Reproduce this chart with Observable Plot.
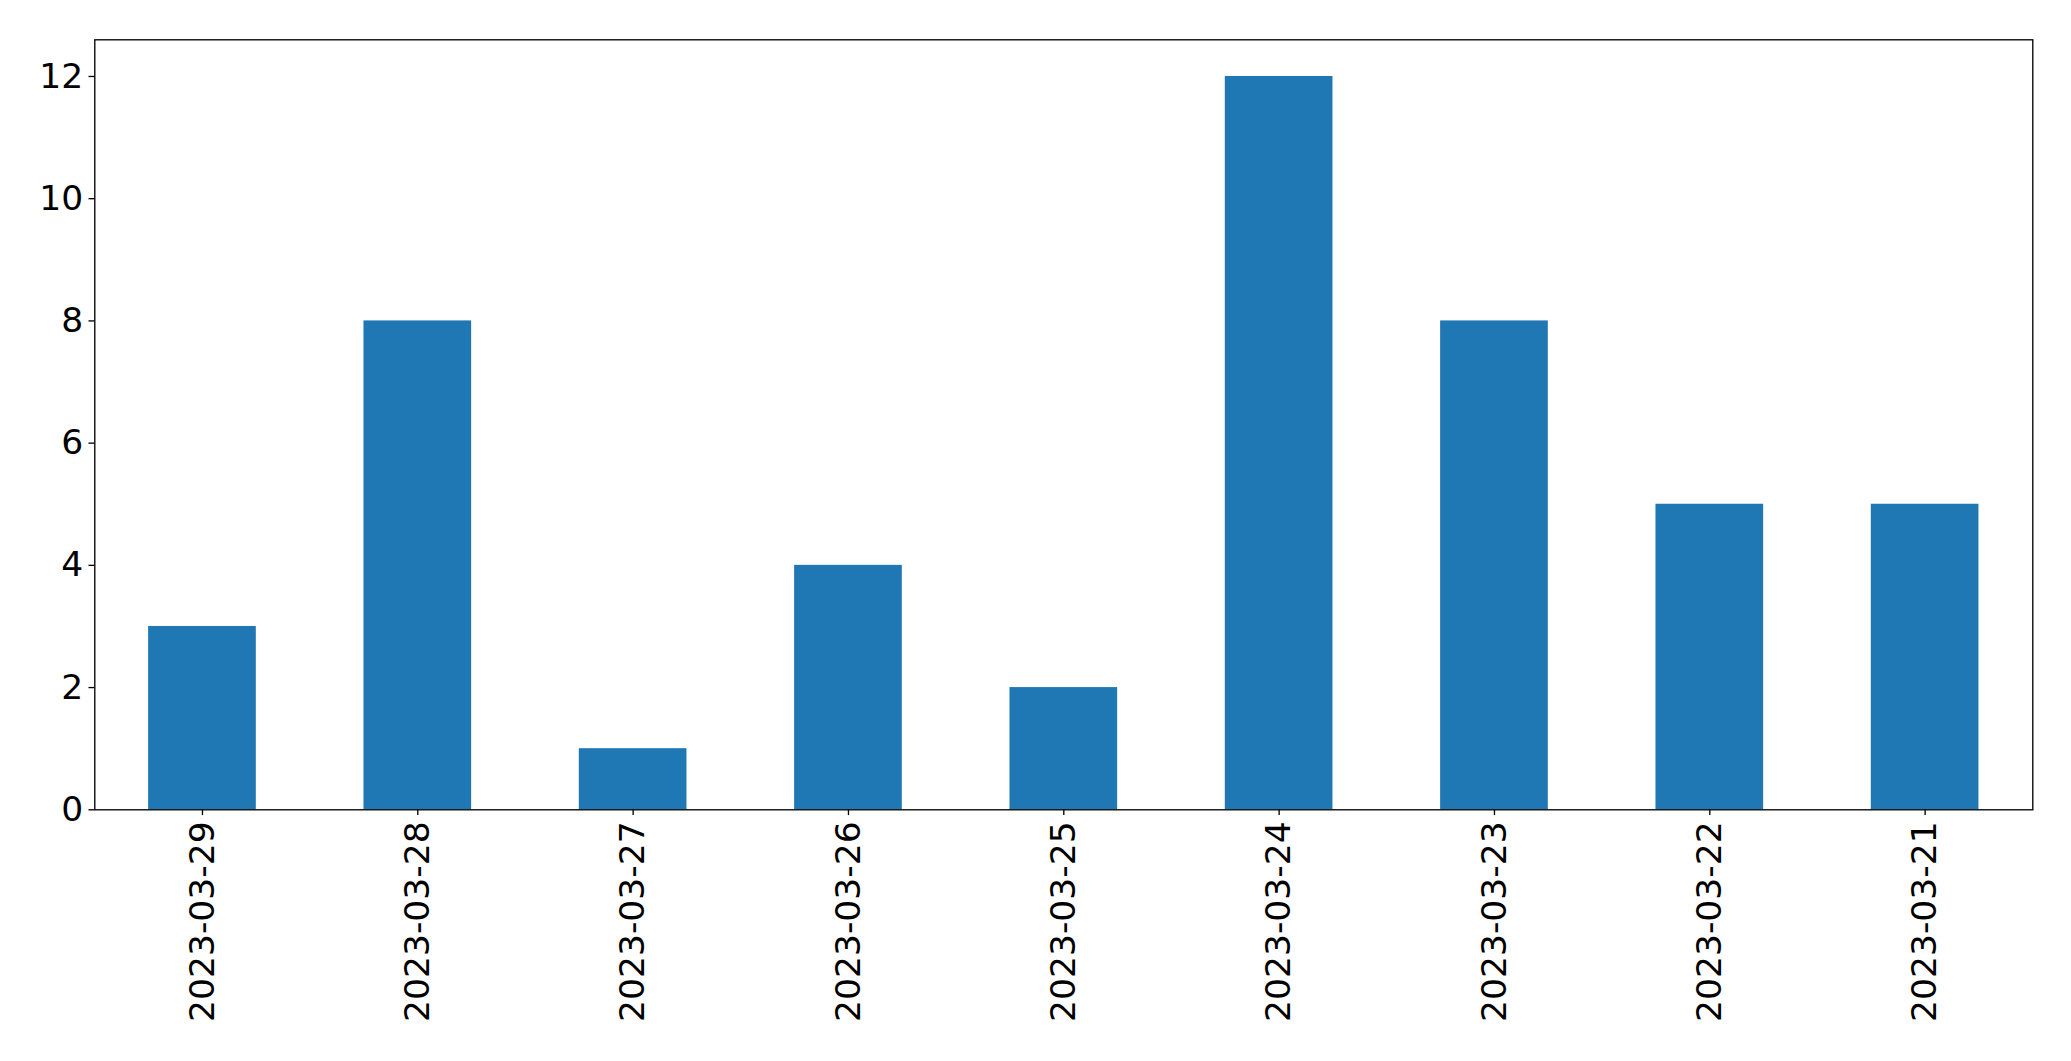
<!DOCTYPE html>
<html>
<head>
<meta charset="utf-8">
<script src="https://cdn.jsdelivr.net/npm/d3@7"></script>
<script src="https://cdn.jsdelivr.net/npm/@observablehq/plot@0.6"></script>
<style>
  html, body { margin: 0; padding: 0; background: #fff; }
  #chart svg { display: block; }
</style>
</head>
<body>
<div id="chart"></div>
<script>
const dates = ["2023-03-29", "2023-03-28", "2023-03-27", "2023-03-26", "2023-03-25", "2023-03-24", "2023-03-23", "2023-03-22", "2023-03-21"];
const counts = [3, 8, 1, 4, 2, 12, 8, 5, 5];
const yTicks = [0, 2, 4, 6, 8, 10, 12];

const data = dates.map((d, i) => ({date: d, count: counts[i]}));

const fontPx = 34.5;
const chart = Plot.plot({
  width: 2071,
  height: 1061,
  marginLeft: 94.3,
  marginRight: 38.7,
  marginTop: 39.3,
  marginBottom: 251.7,
  style: {fontFamily: "DejaVu Sans", fontSize: fontPx + "px", color: "#000", background: "#fff"},
  x: {domain: dates, paddingInner: 0.5, paddingOuter: 0.25, align: 0.5, round: false},
  y: {domain: [0, 12.6]},
  marks: [
    Plot.barY(data, {x: "date", y: "count", fill: "#1f77b4"}),
    Plot.frame({stroke: "#000", strokeWidth: 1.33}),
    Plot.axisY({ticks: yTicks, tickFormat: d => String(d), tickSize: 5.8, tickPadding: 5.8, strokeWidth: 1.33, fontSize: fontPx, label: null}),
    Plot.axisX({tickRotate: -90, tickSize: 5.8, tickPadding: 5.8, strokeWidth: 1.33, fontSize: fontPx, label: null})
  ]
});
document.getElementById("chart").appendChild(chart);
</script>
</body>
</html>
